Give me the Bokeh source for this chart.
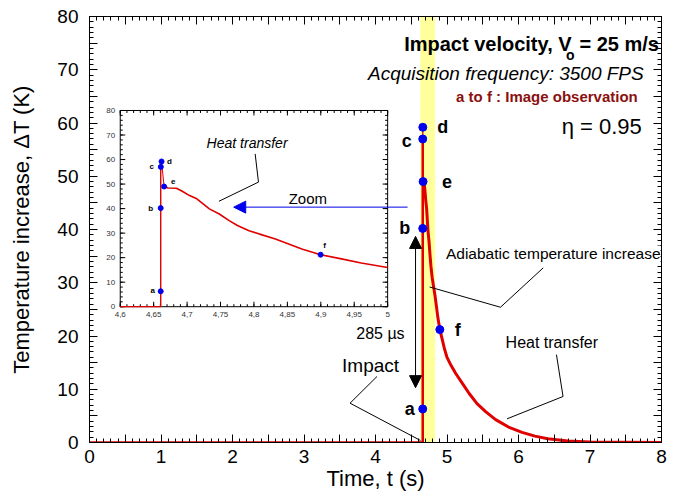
import numpy as np
from bokeh.plotting import figure
from bokeh.models import (Range1d, LinearAxis, FixedTicker, Label, Arrow, NormalHead,
                          CustomJSTickFormatter, ColumnDataSource)
from bokeh.core.properties import value
from bokeh.embed import file_html
from bokeh.resources import INLINE

# ---------------- data ----------------
time_s = [0.0, 4.600, 4.6605, 4.6605, 4.6618, 4.6656, 4.6716, 4.684, 4.6914, 4.7037,
          4.7146, 4.7333, 4.7481, 4.763, 4.7753, 4.7926, 4.8074, 4.8321, 4.8519, 4.8716,
          4.8997, 4.9309, 4.9605, 5.00, 5.06, 5.12, 5.22, 5.31, 5.42, 5.54, 5.68, 5.86,
          6.05, 6.23, 6.41, 6.69, 7.00, 8.00]
delta_T = [0.0, 0.0, 0.0, 57.0, 59.2, 49.0, 48.4, 48.3, 47.3, 45.3,
           44.0, 39.9, 37.8, 35.1, 33.1, 31.0, 29.7, 27.6, 25.6, 23.5,
           21.2, 19.5, 17.8, 16.0, 14.4, 13.0, 11.0, 9.2, 7.3, 5.8, 4.3, 2.9,
           1.9, 1.2, 0.7, 0.3, 0.1, 0.0]

obs_names = ["a", "b", "c", "d", "e", "f"]
obs_time = [4.6605, 4.6605, 4.6607, 4.6618, 4.6656, 4.8997]
obs_dT = [6.3, 40.2, 57.0, 59.2, 49.0, 21.2]

band_time = [4.627, 4.834]          # highlighted acquisition window

main_xticks = [i * 0.5 for i in range(17)]
main_xminor = [i * 0.1 for i in range(81)]
main_yticks = list(range(0, 81, 5))
main_yminor = list(range(0, 81, 1))

inset_time_range = [4.6, 5.0]
inset_dT_range = [0, 80]
inset_xticks = [4.6, 4.65, 4.7, 4.75, 4.8, 4.85, 4.9, 4.95, 5.0]
inset_xtick_labels = ["4,6", "4,65", "4,7", "4,75", "4,8", "4,85", "4,9", "4,95", "5"]
inset_xminor = [4.6 + 0.01 * i for i in range(41)]
inset_yticks = [0, 10, 20, 30, 40, 50, 60, 70, 80]
inset_ytick_labels = ["0", "10", "20", "30", "40", "50", "60", "70", "80"]
inset_yminor = list(range(0, 81, 2))

# ---------------- layout / style ----------------
FONT = "Liberation Sans"
RED = "#e00000"
BLUE = "#0000ee"
W, H = 667, 496
BL, BR, BT, BB = 89, 6, 16, 54
FW, FH = W - BL - BR, H - BT - BB

# inset box placement, in main-axis coordinates
IX0, IX1, IY0, IY1 = 0.43, 4.17, 25.5, 62.35

p = figure(width=W, height=H, x_range=Range1d(0, 8), y_range=Range1d(0, 80),
           output_backend="svg", toolbar_location=None,
           min_border_left=BL, min_border_right=BR, min_border_top=BT, min_border_bottom=BB)
p.xgrid.visible = False
p.ygrid.visible = False
p.outline_line_color = "black"
p.outline_line_width = 1
p.background_fill_color = "white"
p.border_fill_color = "white"

xt = FixedTicker(ticks=main_xticks, minor_ticks=main_xminor)
yt = FixedTicker(ticks=main_yticks, minor_ticks=main_yminor)
x_fmt = CustomJSTickFormatter(code="return (Math.abs(tick - Math.round(tick)) < 1e-6) ? tick.toFixed(0) : '';")
y_fmt = CustomJSTickFormatter(code="return (Math.abs(tick % 10) < 1e-6) ? tick.toFixed(0) : '';")
blank = CustomJSTickFormatter(code="return '';")


def style_axis(ax):
    ax.major_tick_in = 8
    ax.major_tick_out = 0
    ax.minor_tick_in = 4
    ax.minor_tick_out = 0
    ax.axis_line_color = "black"
    ax.major_tick_line_color = "black"
    ax.minor_tick_line_color = "black"
    ax.major_label_text_font = FONT
    ax.major_label_text_font_size = "19px"
    ax.major_label_text_color = "black"
    ax.axis_label_text_font = FONT
    ax.axis_label_text_font_size = "22px"
    ax.axis_label_text_font_style = "normal"
    ax.axis_label_text_color = "black"


p.xaxis.ticker = xt
p.xaxis.formatter = x_fmt
p.yaxis.ticker = yt
p.yaxis.formatter = y_fmt
style_axis(p.xaxis[0])
style_axis(p.yaxis[0])
p.xaxis.axis_label = "Time, t (s)"
p.yaxis.axis_label = "Temperature increase, \u0394T (K)"
p.xaxis.major_label_standoff = 7
p.xaxis.axis_label_standoff = 0
p.yaxis.major_label_standoff = 11
p.yaxis.axis_label_standoff = 20

top = LinearAxis(ticker=xt, formatter=blank, major_label_standoff=0)
right = LinearAxis(ticker=yt, formatter=blank, major_label_standoff=0)
style_axis(top)
style_axis(right)
top.major_label_text_font_size = "1px"
right.major_label_text_font_size = "1px"
p.add_layout(top, "above")
p.add_layout(right, "right")

# ---------------- main panel ----------------
t = np.array(time_s)
T = np.array(delta_T)
t_imp = obs_time[0]
t_e = obs_time[4]

p.quad(left=[band_time[0]], right=[band_time[1]], bottom=[0], top=[80],
       fill_color="#ffff9c", line_color=None)

pre = t <= t_imp
rise = (t >= t_imp) & (t <= t_e)
decay = t >= t_e
p.line(t[pre], T[pre], line_color=RED, line_width=2.5)
p.line(t[rise], T[rise], line_color=RED, line_width=1.2)
p.line(t[decay], T[decay], line_color=RED, line_width=3)

p.scatter(obs_time, obs_dT, size=8, marker="circle", fill_color=BLUE, line_color=BLUE)
main_lbl = ColumnDataSource(dict(t=obs_time, T=obs_dT, name=obs_names,
                                 dx=[-13, -18, -16, 20, 24, 18], dy=[0, 0, 2, 0, 0, 0]))
p.text(source=main_lbl, x="t", y="T", text="name", x_offset="dx", y_offset="dy",
       text_font=value(FONT), text_font_size="18px", text_font_style="bold",
       text_align="center", text_baseline="middle", text_color="black")

# ---------------- inset ----------------
kx = (inset_time_range[1] - inset_time_range[0]) / (IX1 - IX0)
ky = (inset_dT_range[1] - inset_dT_range[0]) / (IY1 - IY0)
p.extra_x_ranges = {"ix": Range1d(inset_time_range[0] - IX0 * kx,
                                  inset_time_range[0] + (8 - IX0) * kx)}
p.extra_y_ranges = {"iy": Range1d(inset_dT_range[0] - IY0 * ky,
                                  inset_dT_range[0] + (80 - IY0) * ky)}
R = dict(x_range_name="ix", y_range_name="iy")

p.quad(left=[inset_time_range[0]], right=[inset_time_range[1]],
       bottom=[inset_dT_range[0]], top=[inset_dT_range[1]],
       fill_color="white", line_color="black", line_width=1, **R)

# tick lengths converted from pixels to inset units
ppx = FW / 8.0 / kx
ppy = FH / 80.0 / ky
a0, a1 = inset_time_range
b0, b1 = inset_dT_range


def ticks_x(vals, length_px):
    L = length_px / ppy
    v = list(vals)
    p.segment(x0=v, y0=[b0] * len(v), x1=v, y1=[b0 + L] * len(v), line_color="black", line_width=1, **R)
    p.segment(x0=v, y0=[b1] * len(v), x1=v, y1=[b1 - L] * len(v), line_color="black", line_width=1, **R)


def ticks_y(vals, length_px):
    L = length_px / ppx
    v = list(vals)
    p.segment(x0=[a0] * len(v), y0=v, x1=[a0 + L] * len(v), y1=v, line_color="black", line_width=1, **R)
    p.segment(x0=[a1] * len(v), y0=v, x1=[a1 - L] * len(v), y1=v, line_color="black", line_width=1, **R)


ticks_x(inset_xticks, 5)
ticks_x(inset_xminor, 2.5)
ticks_y(inset_yticks, 5)
ticks_y(inset_yminor, 2.5)

p.text(x=inset_xticks, y=[b0] * len(inset_xticks), text=inset_xtick_labels,
       y_offset=5, text_align="center", text_baseline="top",
       text_font=value(FONT), text_font_size="8px", text_color="#333333", **R)
p.text(x=[a0] * len(inset_yticks), y=inset_yticks, text=inset_ytick_labels,
       x_offset=-5, text_align="right", text_baseline="middle",
       text_font=value(FONT), text_font_size="8px", text_color="#333333", **R)

ins = (t >= a0) & (t <= a1)
p.line(t[ins & pre], T[ins & pre], line_color=RED, line_width=1.2, **R)
p.line(t[ins & rise], T[ins & rise], line_color=RED, line_width=1, **R)
p.line(t[ins & decay], T[ins & decay], line_color=RED, line_width=1.6, **R)
p.scatter(obs_time, obs_dT, size=5, marker="circle", fill_color=BLUE, line_color=BLUE, **R)
ins_lbl = ColumnDataSource(dict(t=obs_time, T=obs_dT, name=obs_names,
                                dx=[-8, -10, -9, 8, 9, 4], dy=[-1, 0, 0, 0, -5, -9]))
p.text(source=ins_lbl, x="t", y="T", text="name", x_offset="dx", y_offset="dy",
       text_font=value(FONT), text_font_size="8px", text_font_style="bold",
       text_align="center", text_baseline="middle", text_color="black", **R)

# ---------------- annotations ----------------
leaders = [
    ([2.317, 2.363, 1.810], [54.2, 48.9, 45.3]),   # inset heat transfer
    ([4.757, 5.748, 6.346], [29.2, 25.4, 32.8]),   # adiabatic
    ([5.840, 6.623, 6.531], [4.45, 8.64, 16.5]),   # heat transfer
    ([4.021, 3.644, 4.629], [12.4, 7.38, 0.38]),   # impact
]
for xs, ys in leaders:
    p.line(xs, ys, line_color="black", line_width=1)

p.add_layout(Arrow(start=NormalHead(size=12, fill_color="black", line_color="black"),
                   end=NormalHead(size=12, fill_color="black", line_color="black"),
                   x_start=4.56, y_start=10.3, x_end=4.56, y_end=38.7,
                   line_color="black", line_width=1))
p.add_layout(Arrow(end=NormalHead(size=12, fill_color=BLUE, line_color=BLUE),
                   x_start=4.449, y_start=44.2, x_end=2.017, y_end=44.2,
                   line_color=BLUE, line_width=1))


def lab(x, y, text, size, align="center", style="normal", color="black", **kw):
    p.add_layout(Label(x=x, y=y, text=text, text_font=FONT, text_font_size=size,
                       text_font_style=style, text_align=align, text_baseline="middle",
                       text_color=color, **kw))


lab(6.743, 74.9, "Impact velocity, V", "20px", align="right", style="bold")
lab(6.725, 72.7, "o", "14px", align="center", style="bold")
lab(6.853, 74.9, "= 25 m/s", "20px", align="left", style="bold")
lab(7.751, 69.3, "Acquisition frequency: 3500 FPS", "19px", align="right", style="italic")
lab(7.668, 65.0, "a to f : Image observation", "15px", align="right", style="bold", color="#8b1010")
lab(7.724, 59.3, "\u03b7 = 0.95", "22px", align="right")
lab(2.204, 56.2, "Heat transfer", "14px", style="italic")
lab(3.054, 45.8, "Zoom", "15px")
lab(4.069, 20.5, "285 \u00b5s", "16px")
lab(3.931, 14.5, "Impact", "19px")
lab(8.0, 35.4, "Adiabatic temperature increase", "15.5px", align="right",
    background_fill_color="white", x_offset=-1)
lab(6.466, 18.8, "Heat transfer", "16px")

open("out.html", "w").write(file_html(p, INLINE))
